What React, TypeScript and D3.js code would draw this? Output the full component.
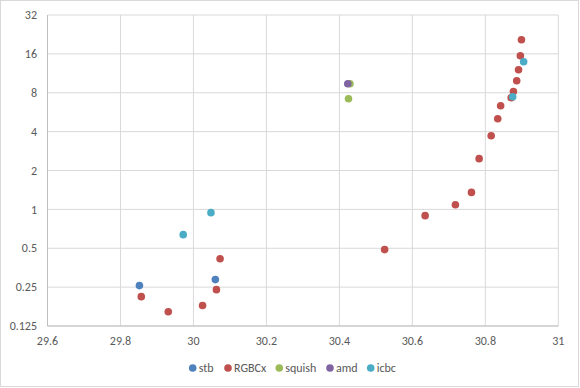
import * as d3 from "d3";

// series values: [x, y]
const stb: [number, number][] = [
  [29.852, 0.257],
  [30.06, 0.286],
];
const rgbcx: [number, number][] = [
  [29.857, 0.211],
  [29.931, 0.161],
  [30.025, 0.18],
  [30.063, 0.239],
  [30.073, 0.415],
  [30.524, 0.488],
  [30.635, 0.894],
  [30.718, 1.087],
  [30.762, 1.354],
  [30.783, 2.47],
  [30.816, 3.72],
  [30.834, 5.03],
  [30.842, 6.35],
  [30.871, 7.32],
  [30.877, 8.19],
  [30.886, 9.91],
  [30.891, 12.05],
  [30.896, 15.47],
  [30.899, 20.6],
];
const squish: [number, number][] = [
  [30.429, 9.39],
  [30.425, 7.19],
];
const amd: [number, number][] = [[30.423, 9.39]];
const icbc: [number, number][] = [
  [29.972, 0.637],
  [30.048, 0.943],
  [30.875, 7.45],
  [30.905, 13.9],
];

const seriesNames = ["stb", "RGBCx", "squish", "amd", "icbc"];
const seriesColors = ["#4F81BD", "#C0504D", "#9BBB59", "#8064A2", "#4BACC6"];
const seriesData = [stb, rgbcx, squish, amd, icbc];

const xTicks = [29.6, 29.8, 30, 30.2, 30.4, 30.6, 30.8, 31];
const yTicks = [0.125, 0.25, 0.5, 1, 2, 4, 8, 16, 32];

export default function App() {
  const width = 580;
  const height = 388;
  const left = 47.5;
  const right = 558.3;
  const top = 15;
  const bottom = 326;

  const x = d3.scaleLinear().domain([29.6, 31]).range([left, right]);
  const y = d3.scaleLog().base(2).domain([0.125, 32]).range([bottom, top]);

  const font = "Carlito, 'Liberation Sans', Arial, sans-serif";
  const textColor = "#595959";

  // legend positions
  const legendItems = seriesNames.map((n, i) => ({ name: n, color: seriesColors[i] }));
  const legendX = [192.7, 228, 279.3, 330, 370.7];

  return (
    <svg
      width={width}
      height={height}
      style={{ position: "absolute", left: 0, top: 0, background: "#fff" }}
    >
      <rect x={0.5} y={0.5} width={578} height={386} fill="#fff" stroke="#d9d9d9" />
      {/* gridlines */}
      {xTicks.map((t) => (
        <line key={"gx" + t} x1={x(t)} x2={x(t)} y1={top} y2={bottom} stroke="#d9d9d9" />
      ))}
      {yTicks.map((t) => (
        <line key={"gy" + t} x1={left} x2={right} y1={y(t)} y2={y(t)} stroke="#d9d9d9" />
      ))}
      <line x1={left} x2={left} y1={top} y2={bottom} stroke="#bfbfbf" />
      <line x1={left} x2={right} y1={bottom} y2={bottom} stroke="#bfbfbf" />
      {/* tick labels */}
      {yTicks.map((t) => (
        <text
          key={"ly" + t}
          x={37}
          y={y(t)}
          dy="0.35em"
          textAnchor="end"
          fontFamily={font}
          fontSize={12}
          fill={textColor}
        >
          {String(t)}
        </text>
      ))}
      {xTicks.map((t) => (
        <text
          key={"lx" + t}
          x={x(t)}
          y={341}
          dy="0.35em"
          textAnchor="middle"
          fontFamily={font}
          fontSize={12}
          fill={textColor}
        >
          {String(t)}
        </text>
      ))}
      {/* points */}
      {seriesData.map((s, i) => (
        <g key={"s" + i}>
          {s.map((d, j) => (
            <circle key={j} cx={x(d[0])} cy={y(d[1])} r={3.8} fill={seriesColors[i]} />
          ))}
        </g>
      ))}
      {/* legend */}
      {legendItems.map((it, i) => (
        <g key={"lg" + i}>
          <circle cx={legendX[i]} cy={368} r={3.8} fill={it.color} />
          <text
            x={legendX[i] + 6}
            y={368}
            dy="0.35em"
            fontFamily={font}
            fontSize={12}
            fill={textColor}
          >
            {it.name}
          </text>
        </g>
      ))}
    </svg>
  );
}
